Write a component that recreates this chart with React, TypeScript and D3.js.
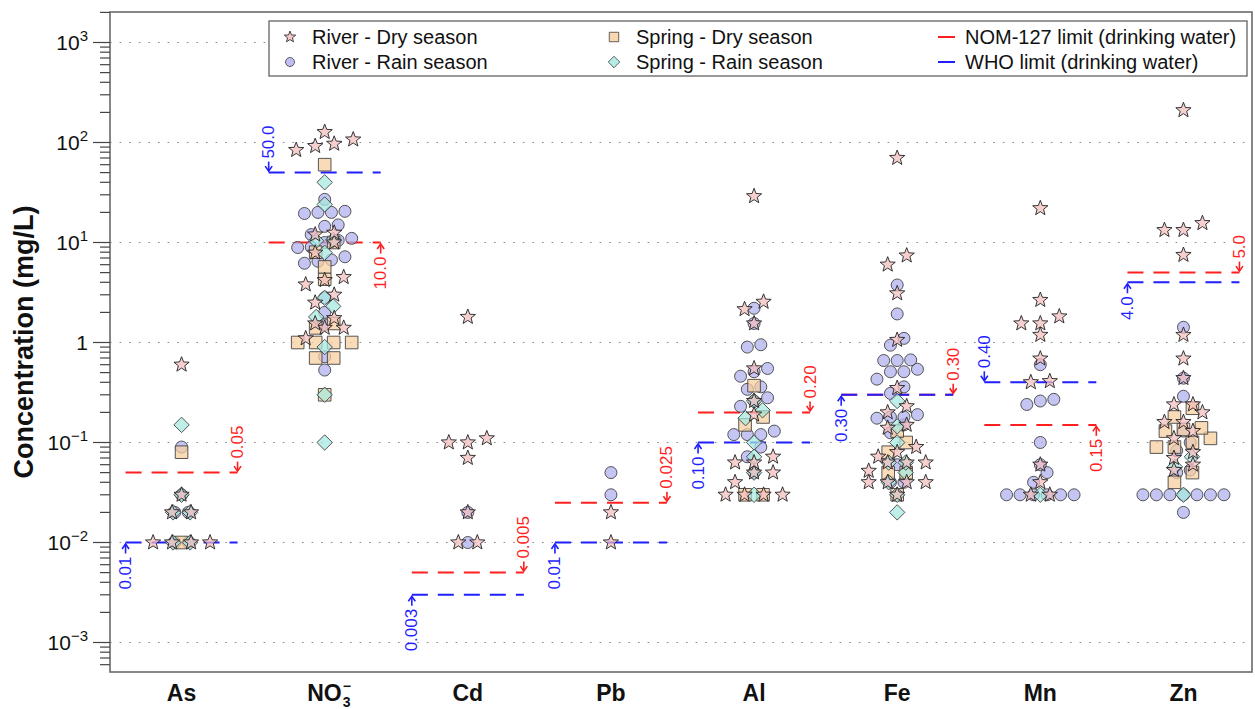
import React from "react";
import * as d3 from "d3";

const categories = ["As", "NO3", "Cd", "Pb", "Al", "Fe", "Mn", "Zn"];

// River - Dry season (stars), one list per category
const riverDry: number[][] = [
  [0.6, 0.03, 0.02, 0.02, 0.01, 0.01, 0.01, 0.01],
  [127, 107, 97, 92, 84, 12.5, 12, 10, 7.9, 4.5, 4.2, 3.8, 3.0, 2.5, 1.75, 1.55, 1.4, 1.4, 1.1],
  [1.8, 0.11, 0.1, 0.1, 0.07, 0.02, 0.01, 0.01],
  [0.02, 0.01],
  [29, 2.55, 2.15, 1.55, 0.55, 0.26, 0.19, 0.072, 0.063, 0.063, 0.05, 0.05, 0.04, 0.03, 0.03, 0.03, 0.03],
  [70, 7.4, 6.0, 3.1, 1.06, 0.35, 0.23, 0.2, 0.15, 0.14, 0.09, 0.08, 0.072, 0.063, 0.063, 0.063, 0.052, 0.04, 0.04, 0.04, 0.04, 0.03],
  [22, 2.66, 1.82, 1.55, 1.55, 1.19, 0.69, 0.41, 0.4, 0.06, 0.04, 0.03, 0.03],
  [210, 15.6, 13.3, 13.3, 7.5, 1.19, 0.69, 0.44, 0.24, 0.24, 0.2, 0.16, 0.16, 0.13, 0.11, 0.08, 0.07, 0.06, 0.053],
];

// River - Rain season (circles)
const riverRain: number[][] = [
  [0.09, 0.03, 0.02, 0.02, 0.01, 0.01],
  [27, 20.5, 20, 20, 19.5, 15, 14.5, 12, 11, 10.5, 10, 9, 8.9, 7.2, 6.7, 6.5, 6.2, 2.8, 2.0, 1.5, 0.72, 0.53],
  [0.02, 0.01],
  [0.05, 0.03],
  [2.2, 1.55, 0.95, 0.9, 0.55, 0.51, 0.46, 0.36, 0.34, 0.28, 0.26, 0.23, 0.13, 0.12, 0.12, 0.12, 0.09, 0.072, 0.05],
  [3.76, 1.93, 1.1, 0.94, 0.67, 0.66, 0.66, 0.54, 0.51, 0.51, 0.43, 0.36, 0.31, 0.19, 0.18, 0.18, 0.175, 0.15, 0.125, 0.06, 0.04, 0.04],
  [0.6, 0.27, 0.26, 0.24, 0.1, 0.06, 0.05, 0.04, 0.03, 0.03, 0.03, 0.03, 0.03, 0.03],
  [1.42, 0.44, 0.29, 0.13, 0.1, 0.083, 0.053, 0.05, 0.03, 0.03, 0.03, 0.03, 0.03, 0.03, 0.03, 0.02],
];

// Spring - Dry season (squares)
const springDry: number[][] = [
  [0.08, 0.01],
  [60, 10, 8, 5.7, 4.3, 1.55, 1.4, 1.0, 1.0, 1.0, 1.0, 0.7, 0.7, 0.3],
  [],
  [],
  [0.37, 0.18, 0.15, 0.03, 0.03],
  [0.13, 0.1, 0.08, 0.05, 0.05, 0.03],
  [],
  [0.22, 0.18, 0.14, 0.135, 0.13, 0.11, 0.1, 0.09, 0.09, 0.05, 0.04],
];

// Spring - Rain season (diamonds)
const springRain: number[][] = [
  [0.15, 0.03, 0.02, 0.02, 0.01, 0.01],
  [40, 24, 10.6, 10.4, 7.9, 2.8, 2.3, 1.8, 0.9, 0.3, 0.1],
  [],
  [],
  [0.26, 0.21, 0.175, 0.1, 0.072, 0.05, 0.03],
  [0.26, 0.145, 0.1, 0.063, 0.063, 0.05, 0.04, 0.03, 0.02],
  [0.03],
  [0.072, 0.057, 0.03],
];

const nomLimits = [0.05, 10, 0.005, 0.025, 0.2, 0.3, 0.15, 5];
const nomLabels = ["0.05", "10.0", "0.005", "0.025", "0.20", "0.30", "0.15", "5.0"];
const whoLimits = [0.01, 50, 0.003, 0.01, 0.1, 0.3, 0.4, 4];
const whoLabels = ["0.01", "50.0", "0.003", "0.01", "0.10", "0.30", "0.40", "4.0"];

const seriesNames = ["River - Dry season", "River - Rain season", "Spring - Dry season", "Spring - Rain season"];
const limitNames = ["NOM-127 limit (drinking water)", "WHO limit (drinking water)"];
const yDecades = [-3, -2, -1, 0, 1, 2, 3];

const FONT = "'Liberation Sans', Arial, Helvetica, sans-serif";
const RED = "#ff1f1f";
const BLUE = "#1f1fff";

function starPath(R: number, r: number) {
  const pts: string[] = [];
  for (let k = 0; k < 10; k++) {
    const a = -Math.PI / 2 + (k * Math.PI) / 5;
    const rad = k % 2 === 0 ? R : r;
    pts.push((rad * Math.cos(a)).toFixed(2) + "," + (rad * Math.sin(a)).toFixed(2));
  }
  return "M" + pts.join("L") + "Z";
}

const shapePaths: Record<string, string> = {
  star: starPath(8, 3.4),
  circle: d3.symbol(d3.symbolCircle, Math.PI * 6 * 6)() as string,
  square: "M-6.3,-6.3H6.3V6.3H-6.3Z",
  diamond: "M0,-7.7L7.7,0L0,7.7L-7.7,0Z",
};

const seriesStyle = [
  { data: riverDry, shape: "star", fill: "#f2bcbc", stroke: "#222", step: 19 },
  { data: riverRain, shape: "circle", fill: "#aeaef0", stroke: "#444", step: 13.5 },
  { data: springDry, shape: "square", fill: "#f8cd9c", stroke: "#444", step: 18 },
  { data: springRain, shape: "diamond", fill: "#a3e9df", stroke: "#444", step: 17 },
];
const drawOrder = [1, 2, 3, 0];

// row-based swarm: points whose y are close share a row and are spread symmetrically
function swarm(values: number[], y: (v: number) => number, step: number, tol: number) {
  const sorted = [...values].sort((a, b) => a - b);
  const out: { v: number; dx: number }[] = [];
  let row: number[] = [];
  let rowY = 0;
  const flush = () => {
    const n = row.length;
    row.forEach((v, k) => out.push({ v, dx: (k - (n - 1) / 2) * step }));
    row = [];
  };
  for (const v of sorted) {
    const py = y(v);
    if (row.length && Math.abs(py - rowY) > tol) flush();
    if (!row.length) rowY = py;
    row.push(v);
  }
  flush();
  return out;
}

function LimitLabel({ lx, ly, above, text, color }: { lx: number; ly: number; above: boolean; text: string; color: string }) {
  const d = above ? -1 : 1;
  const tipY = ly + d * 1.5;
  const tailY = ly + d * 11;
  const head = `M${lx - 3.5},${tipY + d * 5}L${lx},${tipY}L${lx + 3.5},${tipY + d * 5}`;
  return (
    <g>
      <path d={`M${lx},${tailY}V${tipY}`} stroke={color} strokeWidth={1.6} fill="none" />
      <path d={head} stroke={color} strokeWidth={1.6} fill="none" />
      <text
        transform={`translate(${lx},${ly + d * 14}) rotate(-90)`}
        textAnchor={above ? "start" : "end"}
        dominantBaseline="central"
        fontSize={17}
        fill={color}
        fontFamily={FONT}
      >
        {text}
      </text>
    </g>
  );
}

export default function App() {
  const W = 1255;
  const H = 709;
  const left = 110;
  const right = 1252;
  const top = 12;
  const bottom = 672;

  const x = d3.scaleBand<string>().domain(categories).range([left, 1255]);
  const cx = (c: string) => (x(c) as number) + x.bandwidth() / 2;
  const y = d3.scaleLog().domain([Math.pow(10, -3.295), Math.pow(10, 3.305)]).range([bottom, top]);

  const allTicks = y.ticks().filter((t) => y(t) >= top - 0.5 && y(t) <= bottom + 0.5);
  const isDecade = (t: number) => Math.abs(Math.log10(t) - Math.round(Math.log10(t))) < 1e-6;

  const halfW = 56;

  return (
    <svg width={W} height={H} style={{ position: "absolute", left: 0, top: 0, background: "#fff" }} fontFamily={FONT}>
      <rect x={0} y={0} width={W} height={H} fill="#fff" />
      {/* grid */}
      {yDecades.map((e) => (
        <line key={"g" + e} x1={left} x2={right} y1={y(Math.pow(10, e))} y2={y(Math.pow(10, e))} stroke="#8a8a8a" strokeWidth={1.2} strokeDasharray="1.6 8" />
      ))}

      {/* limit lines */}
      {categories.map((c, i) => {
        const cc = cx(c);
        const ny = y(nomLimits[i]);
        const wy = y(whoLimits[i]);
        const nomAbove = nomLimits[i] >= whoLimits[i];
        return (
          <g key={"lim" + c}>
            <line x1={cc - halfW} x2={cc + halfW} y1={ny} y2={ny} stroke={RED} strokeWidth={2} strokeDasharray="16 10" />
            <LimitLabel lx={cc + halfW} ly={ny} above={nomAbove} text={nomLabels[i]} color={RED} />
            <line x1={cc - halfW} x2={cc + halfW} y1={wy} y2={wy} stroke={BLUE} strokeWidth={2} strokeDasharray="16 10" />
            <LimitLabel lx={cc - halfW} ly={wy} above={!nomAbove} text={whoLabels[i]} color={BLUE} />
          </g>
        );
      })}

      {/* points */}
      {drawOrder.map((s) => {
        const st = seriesStyle[s];
        return (
          <g key={"s" + s}>
            {categories.map((c, i) =>
              swarm(st.data[i], (v) => y(v), st.step, 11).map((p, k) => (
                <path
                  key={c + k}
                  d={shapePaths[st.shape]}
                  transform={`translate(${cx(c) + p.dx},${y(p.v)})`}
                  fill={st.fill}
                  fillOpacity={0.72}
                  stroke={st.stroke}
                  strokeWidth={1}
                  strokeOpacity={0.9}
                />
              ))
            )}
          </g>
        );
      })}

      {/* frame */}
      <rect x={left} y={top} width={right - left} height={bottom - top} fill="none" stroke="#6a6a6a" strokeWidth={1.6} />

      {/* y ticks */}
      {allTicks.map((t, k) => {
        const major = isDecade(t);
        return <line key={"t" + k} x1={major ? left - 17 : left - 10} x2={left} y1={y(t)} y2={y(t)} stroke="#444" strokeWidth={1.2} />;
      })}
      {yDecades.map((e) => (
        <text key={"yl" + e} x={88} y={y(Math.pow(10, e)) + 7.5} textAnchor="end" fontSize={21} fill="#111">
          {e === 0 ? (
            "1"
          ) : (
            <>
              10
              <tspan dy={-9} fontSize={15}>
                {e < 0 ? "\u2212" + Math.abs(e) : String(e)}
              </tspan>
            </>
          )}
        </text>
      ))}

      {/* y title */}
      <text transform={`translate(33,342) rotate(-90)`} textAnchor="middle" fontSize={27} fontWeight="bold" fill="#111">
        Concentration (mg/L)
      </text>

      {/* x labels */}
      {categories.map((c) =>
        c === "NO3" ? (
          <g key={"xl" + c}>
            <text x={cx(c) + 17} y={701} textAnchor="end" fontSize={23} fontWeight="bold" fill="#111">
              NO
            </text>
            <text x={cx(c) + 18} y={707} fontSize={14} fontWeight="bold" fill="#111">
              3
            </text>
            <text x={cx(c) + 18} y={691} fontSize={14} fontWeight="bold" fill="#111">
              {"\u2212"}
            </text>
          </g>
        ) : (
          <text key={"xl" + c} x={cx(c)} y={701} textAnchor="middle" fontSize={23} fontWeight="bold" fill="#111">
            {c}
          </text>
        )
      )}

      {/* legend */}
      <rect x={269} y={21} width={978} height={55} fill="#fff" stroke="#555" strokeWidth={1.2} />
      {[0, 1, 2, 3].map((s) => {
        const st = seriesStyle[s];
        const col = Math.floor(s / 2);
        const row = s % 2;
        const mx = col === 0 ? 290 : 614;
        const my = row === 0 ? 37 : 62;
        return (
          <g key={"lg" + s}>
            <path d={shapePaths[st.shape]} transform={`translate(${mx},${my}) scale(0.75)`} fill={st.fill} fillOpacity={0.8} stroke={st.stroke} strokeWidth={1.1} />
            <text x={mx + 22} y={my + 7} fontSize={20} fill="#111">
              {seriesNames[s]}
            </text>
          </g>
        );
      })}
      {[0, 1].map((k) => {
        const my = k === 0 ? 37 : 62;
        return (
          <g key={"ll" + k}>
            <line x1={938} x2={955} y1={my} y2={my} stroke={k === 0 ? RED : BLUE} strokeWidth={2} />
            <text x={965} y={my + 7} fontSize={20} fill="#111">
              {limitNames[k]}
            </text>
          </g>
        );
      })}
    </svg>
  );
}
